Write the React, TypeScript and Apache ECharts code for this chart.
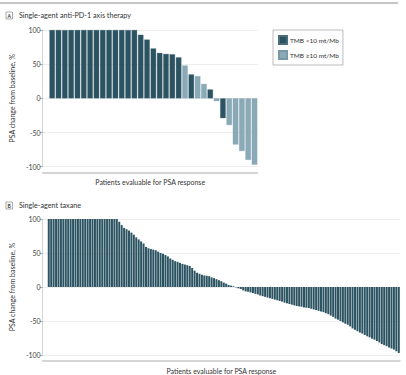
import React, { useEffect, useRef } from 'react';
import * as echarts from 'echarts';

// Panel A: single-agent anti-PD-1 axis therapy (PSA % change per patient, waterfall)
const panelAValues = [
  100, 100, 100, 100, 100, 100, 100, 100, 100, 100, 100, 100, 100, 100,
  93, 86, 73, 66.5, 65, 64.5, 60, 48, 35, 32.5, 21, 13, -4, -29, -39, -67.5, -77, -90, -97,
];
const panelAGroups = [
  'low', 'low', 'low', 'low', 'low', 'low', 'low', 'low', 'low', 'low', 'low', 'low', 'low', 'low',
  'low', 'low', 'low', 'low', 'low', 'low', 'low', 'high', 'low', 'high', 'high', 'low', 'high',
  'low', 'high', 'high', 'high', 'high', 'high',
];
const seriesNames = ['TMB <10 mt/Mb', 'TMB ≥10 mt/Mb'];

// Panel B: single-agent taxane
const panelBValues = [
  100, 100, 100, 100, 100, 100, 100, 100, 100, 100, 100, 100, 100, 100, 100,
  100, 100, 100, 100, 100, 100, 100, 100, 100, 100, 100, 100, 100, 100,
  96, 91, 87, 85, 83, 80, 77, 73, 70, 67, 64, 59, 57, 56, 55, 54, 52, 50, 49, 47,
  45, 42, 40, 38, 37, 35.5, 34, 33, 32, 31, 28, 24, 21, 19.5, 18, 17, 16.5, 16, 14, 13,
  11.5, 10, 8.5, 6.5, 5, 3, 2, 1, -0.5, -2, -3, -5, -6.5, -7, -8, -9, -10, -11, -12.5,
  -13.5, -14.5, -15.5, -16.5, -17.5, -18.5, -19.5, -20.5, -21.5, -23, -24, -25, -26, -27,
  -28, -28.5, -29, -30, -30.5, -31, -32, -33, -34, -35, -36, -37, -38.5, -40, -42, -44,
  -46.5, -48, -50, -52, -54, -55.5, -58, -61, -63, -65, -67, -68.5, -70.5, -72.5, -74,
  -76, -77.5, -79.5, -81.5, -84, -85.5, -87, -89, -90.5, -92, -94.5, -97,
];

const yMin = -100;
const yMax = 100;
const yInterval = 50;

const panelATitle = 'Single-agent anti-PD-1 axis therapy';
const panelBTitle = 'Single-agent taxane';
const yName = 'PSA change from baseline, %';
const xName = 'Patients evaluable for PSA response';

const DARK = '#2B5361';
const LIGHT = '#8AAAB8';
const FONT = 'Lato';

export default function App() {
  const ref = useRef<HTMLDivElement>(null);

  useEffect(() => {
    const chart = echarts.init(ref.current!, null, { renderer: 'svg' });

    const catsA = ['padA', ...panelAValues.map((_, i) => 'A' + (i + 1))];
    const catsB = ['padB1', 'padB2', ...panelBValues.map((_, i) => 'B' + (i + 1))];

    const lowData = [null, ...panelAValues.map((v, i) => (panelAGroups[i] === 'low' ? v : null))];
    const highData = [null, ...panelAValues.map((v, i) => (panelAGroups[i] === 'high' ? v : null))];
    const bData = [null, null, ...panelBValues];

    const yAxisBase = (gridIndex: number) => ({
      type: 'value',
      gridIndex,
      min: yMin,
      max: yMax,
      interval: yInterval,
      axisLine: { show: true, lineStyle: { color: '#d4d4d4', width: 1 } },
      axisTick: { show: true, length: 3, lineStyle: { color: '#999', width: 0.8 } },
      axisLabel: { fontSize: 7, color: '#444', margin: 2, fontFamily: FONT },
      splitLine: { show: true, lineStyle: { color: '#e8e8e8', width: 0.8 } },
      name: yName,
      nameLocation: 'middle',
      nameGap: 22,
      nameTextStyle: { fontSize: 7, color: '#333', fontFamily: FONT },
    });

    const xAxisBase = (gridIndex: number, data: string[]) => ({
      type: 'category',
      gridIndex,
      data,
      offset: 6,
      axisLine: { show: true, onZero: false, lineStyle: { color: '#c8c8c8', width: 1.5 } },
      axisTick: { show: false },
      axisLabel: { show: false },
      splitLine: { show: false },
      name: xName,
      nameLocation: 'middle',
      nameGap: 6,
      nameTextStyle: { fontSize: 7, color: '#333', fontFamily: FONT },
    });

    const panelLabel = (letter: string, title: string, y: number) => [
      {
        type: 'rect',
        shape: { x: 6, y: y - 3.5, width: 6.5, height: 7 },
        style: { fill: '#fff', stroke: '#888', lineWidth: 0.7 },
      },
      {
        type: 'text',
        x: 9.25,
        y: y,
        style: {
          text: letter,
          fontSize: 5,
          fontWeight: 'bold',
          fill: '#333',
          align: 'center',
          verticalAlign: 'middle',
          fontFamily: FONT,
        },
      },
      {
        type: 'text',
        x: 19,
        y: y,
        style: {
          text: title,
          fontSize: 7.2,
          fill: '#333',
          align: 'left',
          verticalAlign: 'middle',
          fontFamily: FONT,
        },
      },
    ];

    chart.setOption({
      animation: false,
      textStyle: { fontFamily: FONT },
      grid: [
        { left: 36, right: 148.3, top: 30, bottom: 208.3 },
        { left: 36, right: 6, top: 219, bottom: 19.7 },
      ],
      xAxis: [xAxisBase(0, catsA), xAxisBase(1, catsB)],
      yAxis: [yAxisBase(0), yAxisBase(1)],
      legend: {
        data: seriesNames,
        left: 273,
        top: 30,
        orient: 'vertical',
        padding: [5, 4, 5, 5],
        itemGap: 5,
        itemWidth: 8,
        itemHeight: 8,
        icon: 'rect',
        borderColor: '#aaa',
        borderWidth: 0.8,
        textStyle: { fontSize: 6.5, color: '#333', fontFamily: FONT, padding: [0, 0, 0, -2] },
      },
      graphic: [
        {
          type: 'line',
          shape: { x1: 0, y1: 3, x2: 398, y2: 3 },
          style: { stroke: '#8c8c8c', lineWidth: 1.2 },
        },
        ...panelLabel('A', panelATitle, 15.5),
        ...panelLabel('B', panelBTitle, 205.5),
      ],
      series: [
        {
          type: 'bar',
          name: seriesNames[0],
          xAxisIndex: 0,
          yAxisIndex: 0,
          data: lowData,
          barGap: '-100%',
          barCategoryGap: '14%',
          itemStyle: { color: DARK, borderColor: '#4a6d79', borderWidth: 0.3 },
        },
        {
          type: 'bar',
          name: seriesNames[1],
          xAxisIndex: 0,
          yAxisIndex: 0,
          data: highData,
          barGap: '-100%',
          barCategoryGap: '14%',
          itemStyle: { color: LIGHT, borderColor: '#7a98a5', borderWidth: 0.3 },
        },
        {
          type: 'bar',
          name: 'taxane',
          xAxisIndex: 1,
          yAxisIndex: 1,
          data: bData,
          barCategoryGap: '18%',
          itemStyle: { color: DARK },
        },
      ],
    });

    return () => chart.dispose();
  }, []);

  return (
    <div
      ref={ref}
      style={{ position: 'absolute', left: 0, top: 0, width: 406, height: 375 }}
    />
  );
}
